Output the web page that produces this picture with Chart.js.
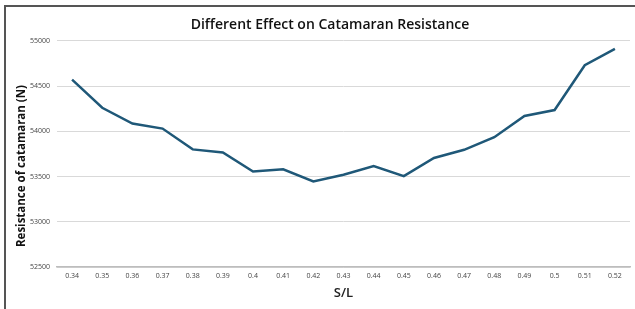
<!DOCTYPE html>
<html>
<head>
<meta charset="utf-8">
<script src="https://cdn.jsdelivr.net/npm/chart.js@4"></script>
<style>
  html, body { margin: 0; padding: 0; background: #fff; }
  #wrap { position: relative; width: 635px; height: 309px; }
  #frame { position: absolute; left: 4px; top: 5px; right: 0; bottom: 0;
           border-left: 2px solid #555; border-top: 2px solid #555; pointer-events: none; }
</style>
</head>
<body>
<div id="wrap">
  <canvas id="resChart" width="635" height="309"></canvas>
  <div id="frame"></div>
</div>
<script>
// S/L ratios on the x axis
const slRatios = ['0.34', '0.35', '0.36', '0.37', '0.38', '0.39', '0.4', '0.41', '0.42', '0.43',
                  '0.44', '0.45', '0.46', '0.47', '0.48', '0.49', '0.5', '0.51', '0.52'];

// resistance of catamaran (N)
const resistance = [54570, 54260, 54085, 54030, 53800, 53765, 53555, 53580, 53445, 53520,
                    53615, 53505, 53705, 53795, 53935, 54170, 54235, 54730, 54910];

const yTicks = [52500, 53000, 53500, 54000, 54500, 55000];

// y axis title sits a bit lower than the plot middle in the original, so draw it by hand
const yTitlePlugin = {
  id: 'yTitle',
  afterDraw(chart) {
    const c = chart.ctx;
    c.save();
    c.translate(22, 166);
    c.rotate(-Math.PI / 2);
    c.font = '700 11.5px "Open Sans"';
    c.fillStyle = '#111';
    c.textAlign = 'center';
    c.textBaseline = 'middle';
    c.fillText('Resistance of catamaran (N)', 0, 0);
    c.restore();
  }
};

const ctx = document.getElementById('resChart');

new Chart(ctx, {
  type: 'line',
  data: {
    labels: slRatios,
    datasets: [{
      label: 'Resistance',
      data: resistance,
      borderColor: '#1f5878',
      borderWidth: 2.5,
      pointRadius: 0,
      tension: 0,
      fill: false
    }]
  },
  options: {
    responsive: false,
    animation: false,
    layout: { padding: { left: 30, right: 5, top: 0, bottom: 0 } },
    plugins: {
      legend: { display: false },
      tooltip: { enabled: false },
      title: {
        display: true,
        text: 'Different Effect on Catamaran Resistance',
        color: '#111',
        font: { family: 'Open Sans', size: 14, weight: '600' },
        padding: { top: 17, bottom: 7 }
      }
    },
    scales: {
      x: {
        offset: true,
        grid: { display: false, drawTicks: false },
        border: { color: '#bdbdbd', width: 1.5 },
        ticks: { color: '#444', font: { family: 'Open Sans', size: 7 }, padding: 5, maxRotation: 0, autoSkip: false },
        title: {
          display: true, text: 'S/L', color: '#222',
          font: { family: 'Open Sans', size: 13, weight: '600' },
          padding: { top: 2, bottom: 8 }
        },
        afterFit: (scale) => { scale.height = 42; }
      },
      y: {
        min: 52500,
        max: 55000,
        afterBuildTicks: (scale) => { scale.ticks = yTicks.map(v => ({ value: v })); },
        grid: { color: '#d9d9d9', lineWidth: 1, drawTicks: false },
        border: { display: false },
        ticks: { color: '#444', font: { family: 'Open Sans', size: 7 }, padding: 7, callback: (v) => String(v) },
        afterFit: (scale) => { scale.width = 27; }
      }
    }
  },
  plugins: [yTitlePlugin]
});
</script>
</body>
</html>
